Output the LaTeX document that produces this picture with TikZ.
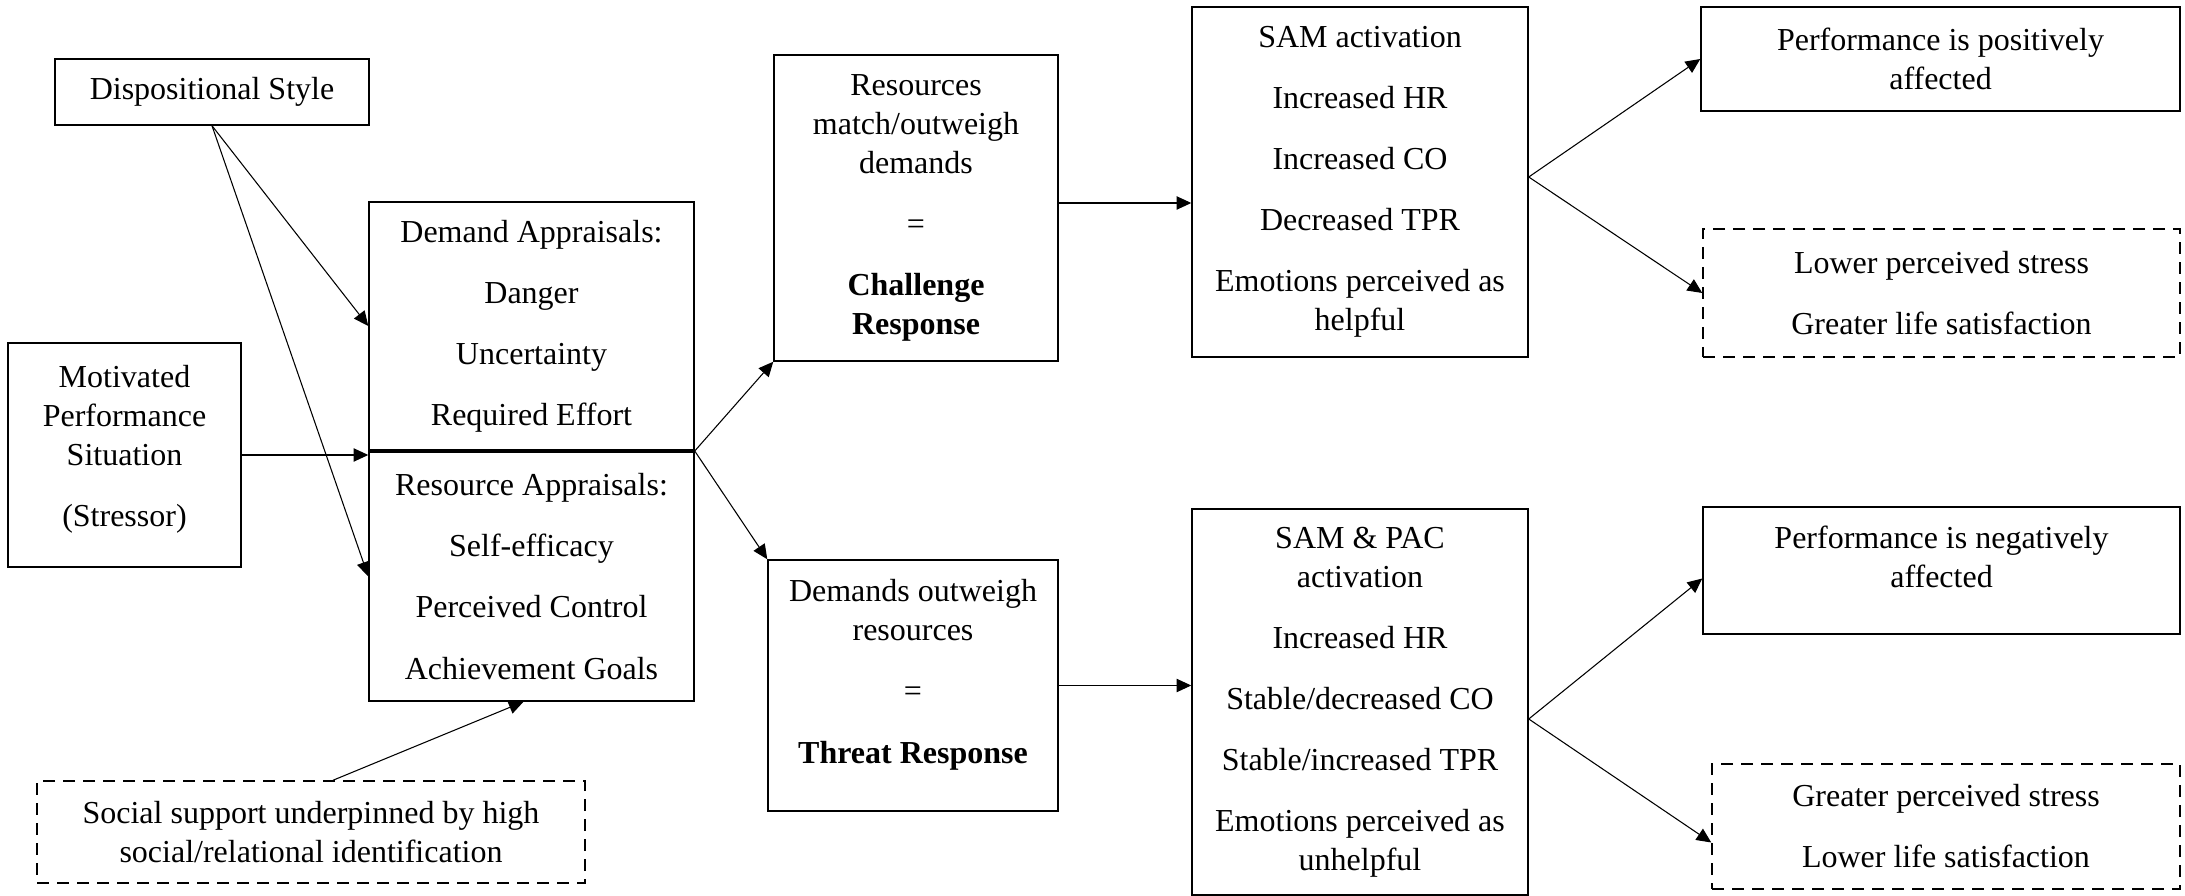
\documentclass[tikz,border=0pt]{standalone}
\usepackage{fontspec}
\setmainfont{Liberation Serif}
\usetikzlibrary{positioning}
\usetikzlibrary{calc}
\usetikzlibrary{arrows.meta}

\begin{document}
\begin{tikzpicture}[x=0.375pt,y=-0.375pt]
    % \draw (0,0) grid[step=100] (2185,896);

    \def\px{0.375pt}
    \def\gap{8.3pt}
  \tikzset{box common/.style={draw, line width=0.55pt, anchor=center, align=center, inner sep=0pt, font=\fontsize{12}{14.6}\selectfont}}
  \tikzset{solid box/.style={box common}}
  \tikzset{dashed box/.style={box common, dash pattern=on 4.5pt off 3pt}}
  \tikzset{link/.style={-{Triangle[length=5.5pt,width=5pt]}, line width=0.4pt}}

  \useasboundingbox (0,0) rectangle (2185,896);

  % left column
  \node[solid box, minimum width=314*\px, minimum height=66*\px] (disp) at (212,92) {Dispositional Style};
  \node[solid box, minimum width=233*\px, minimum height=224*\px] (motiv) at (124.5,455) {Motivated\\Performance\\Situation\\[\gap](Stressor)\\[-8pt]\mbox{}};
  \node[dashed box, minimum width=548*\px, minimum height=102*\px] (soc) at (311,832) {Social support underpinned by high\\social/relational identification};
  %
  % appraisals
  \node[solid box, minimum width=325*\px, minimum height=248*\px] (dem) at (531.5,326) {Demand Appraisals:\\[\gap]Danger\\[\gap]Uncertainty\\[\gap]Required Effort};
  \node[solid box, minimum width=325*\px, minimum height=249*\px] (res) at (531.5,576.5) {Resource Appraisals:\\[\gap]Self-efficacy\\[\gap]Perceived Control\\[\gap]Achievement Goals};
  %
  % responses
  \node[solid box, minimum width=284*\px, minimum height=306*\px] (chal) at (916,208) {Resources\\match/outweigh\\demands\\[\gap]=\\[\gap]\textbf{Challenge}\\\textbf{Response}};
  \node[solid box, minimum width=290*\px, minimum height=251*\px] (thr) at (913,685.5) {Demands outweigh\\resources\\[\gap]=\\[\gap]\textbf{Threat Response}\\[-4pt]\mbox{}};
  %
  \node[solid box, minimum width=336*\px, minimum height=350*\px] (sam) at (1360,182) {SAM activation\\[\gap]Increased HR\\[\gap]Increased CO\\[\gap]Decreased TPR\\[\gap]Emotions perceived as\\helpful};
  \node[solid box, minimum width=336*\px, minimum height=386*\px] (pac) at (1360,702) {SAM \& PAC\\activation\\[\gap]Increased HR\\[\gap]Stable/decreased CO\\[\gap]Stable/increased TPR\\[\gap]Emotions perceived as\\unhelpful};
  %
  % outcomes
  \node[solid box, minimum width=479*\px, minimum height=104*\px] (pos) at (1940.5,59) {Performance is positively\\affected};
  \node[dashed box, minimum width=477*\px, minimum height=128*\px] (low) at (1941.5,293) {Lower perceived stress\\[\gap]Greater life satisfaction};
  \node[solid box, minimum width=477*\px, minimum height=127*\px] (neg) at (1941.5,570.5) {Performance is negatively\\affected\\[-4pt]\mbox{}};
  \node[dashed box, minimum width=468*\px, minimum height=125*\px] (great) at (1946,826.5) {Greater perceived stress\\[\gap]Lower life satisfaction};
  %
  \coordinate (split) at ($(dem.south east)!0.5!(res.north east)$);
  \coordinate (chalout) at ($(chal.east)+(0,-5)$);
  \coordinate (samout) at ($(sam.east)+(0,-5)$);
  \coordinate (pacout) at ($(pac.east)+(0,17)$);
  %
  \draw[link] (disp.south) to (dem.west);
  \draw[link] (disp.south) to (res.west);
  \draw[link] (motiv.east) to (motiv.east -| dem.west);
  \draw[link] ($(soc.north)+(22,0)$) to ($(res.south)+(-8,0)$);
  \draw[link] (split) to (chal.south west);
  \draw[link] (split) to (thr.north west);
  \draw[link] (chalout) to (chalout -| sam.west);
  \draw[link] (thr.east) to (thr.east -| pac.west);
  \draw[link] (samout) to (pos.west);
  \draw[link] (samout) to (low.west);
  \draw[link] (pacout) to ($(neg.west)+(0,8)$);
  \draw[link] (pacout) to ($(great.west)+(0,16)$);
\end{tikzpicture}
\end{document}
